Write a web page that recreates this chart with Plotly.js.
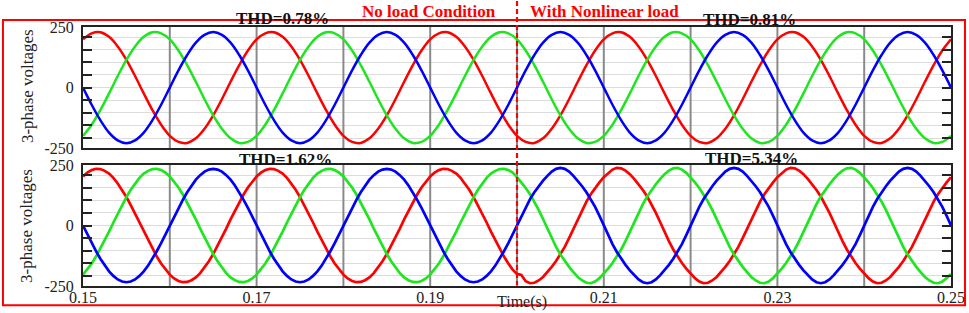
<!DOCTYPE html>
<html>
<head>
<meta charset="utf-8">
<script src="https://cdn.plot.ly/plotly-3.0.1.min.js"></script>
<style>
html,body{margin:0;padding:0;background:#fff;}
#chart{width:969px;height:313px;}
</style>
</head>
<body>
<div id="chart"></div>
<script>
// ---- sampling of the traces (seconds) ----
const tStart = 0.15;
const dtTop = 0.001;     // top panel sample step
const dtBottom = 0.0005; // bottom panel sample step

// ---- axis labels / grid ----
const xTickVals = [0.15, 0.17, 0.19, 0.21, 0.23, 0.25];
const xTickText = ['0.15', '0.17', '0.19', '0.21', '0.23', '0.25'];
const xGridVals = [0.16, 0.17, 0.18, 0.19, 0.20, 0.21, 0.22, 0.23, 0.24];
const yRange = [-240, 240];
const yTickVals = [-240, 0, 240];
const yTickText = ['-250', '0', '250'];
const yTitle = '3-phase voltages';
const xTitle = 'Time(s)';

// ---- top panel: no load -> nonlinear load, inverter output (THD 0.78% / 0.81%) ----
const topRed = [
191,215,219,201,163,110,46,-23,-89,-147,-191,-215,-219,-201,-163,-110,-46,23,89,147,
191,215,219,201,163,110,46,-23,-89,-147,-191,-215,-219,-201,-163,-110,-46,23,89,147,
191,215,219,201,163,110,46,-23,-89,-147,-191,-215,-219,-201,-163,-110,-46,23,89,147,
191,215,219,201,163,110,46,-23,-89,-147,-191,-215,-219,-201,-163,-110,-46,23,89,147,
191,215,219,201,163,110,46,-23,-89,-147,-191,-215,-219,-201,-163,-110,-46,23,89,147,
191];
const topGreen = [
-191,-147,-89,-23,46,110,163,201,219,215,191,147,89,23,-46,-110,-163,-201,-219,-215,
-191,-147,-89,-23,46,110,163,201,219,215,191,147,89,23,-46,-110,-163,-201,-219,-215,
-191,-147,-89,-23,46,110,163,201,219,215,191,147,89,23,-46,-110,-163,-201,-219,-215,
-191,-147,-89,-23,46,110,163,201,219,215,191,147,89,23,-46,-110,-163,-201,-219,-215,
-191,-147,-89,-23,46,110,163,201,219,215,191,147,89,23,-46,-110,-163,-201,-219,-215,
-191];
const topBlue = [
0,-68,-129,-178,-209,-220,-209,-178,-129,-68,0,68,129,178,209,220,209,178,129,68,
0,-68,-129,-178,-209,-220,-209,-178,-129,-68,0,68,129,178,209,220,209,178,129,68,
0,-68,-129,-178,-209,-220,-209,-178,-129,-68,0,68,129,178,209,220,209,178,129,68,
0,-68,-129,-178,-209,-220,-209,-178,-129,-68,0,68,129,178,209,220,209,178,129,68,
0,-68,-129,-178,-209,-220,-209,-178,-129,-68,0,68,129,178,209,220,209,178,129,68,
0];

// ---- bottom panel: grid voltages (THD 1.62% before, 5.34% after the load step) ----
const botRedPre = [
195,210,220,225,224,217,206,189,167,142,113,81,47,12,-24,-58,-92,-123,-151,-175,
-195,-210,-220,-225,-224,-217,-206,-189,-167,-142,-113,-81,-47,-12,24,58,92,123,151,175,
195,210,220,225,224,217,206,189,167,142,113,81,47,12,-24,-58,-92,-123,-151,-175,
-195,-210,-220,-225,-224,-217,-206,-189,-167,-142,-113,-81,-47,-12,24,58,92,123,151,175,
195,210,220,225,224,217,206,189,167,142,113,81,47,12,-24,-58,-92,-123,-151,-175];
const botRedPost = [
-192,-196,-221,-229,-227,-218,-204,-185,-164,-141,-115,-85,-50,-13,26,62,95,124,149,171,
192,209,222,229,227,218,204,185,164,141,115,85,50,13,-26,-62,-95,-124,-149,-171,
-192,-209,-222,-229,-227,-218,-204,-185,-164,-141,-115,-85,-50,-13,26,62,95,124,149,171,
192,209,222,229,227,218,204,185,164,141,115,85,50,13,-26,-62,-95,-124,-149,-171,
-192,-209,-222,-229,-227,-218,-204,-185,-164,-141,-115,-85,-50,-13,26,62,95,124,149,171,
192];
const botGreenPre = [
-195,-175,-151,-123,-92,-58,-24,12,47,81,113,142,167,189,206,217,224,225,220,210,
195,175,151,123,92,58,24,-12,-47,-81,-113,-142,-167,-189,-206,-217,-224,-225,-220,-210,
-195,-175,-151,-123,-92,-58,-24,12,47,81,113,142,167,189,206,217,224,225,220,210,
195,175,151,123,92,58,24,-12,-47,-81,-113,-142,-167,-189,-206,-217,-224,-225,-220,-210,
-195,-175,-151,-123,-92,-58,-24,12,47,81,113,142,167,189,206,217,224,225,220,210];
const botGreenPost = [
192,171,149,124,95,62,26,-13,-50,-85,-115,-141,-164,-185,-204,-218,-227,-229,-222,-209,
-192,-171,-149,-124,-95,-62,-26,13,50,85,115,141,164,185,204,218,227,229,222,209,
192,171,149,124,95,62,26,-13,-50,-85,-115,-141,-164,-185,-204,-218,-227,-229,-222,-209,
-192,-171,-149,-124,-95,-62,-26,13,50,85,115,141,164,185,204,218,227,229,222,209,
192,171,149,124,95,62,26,-13,-50,-85,-115,-141,-164,-185,-204,-218,-227,-229,-222,-209,
-192];
const botBluePre = [
0,-35,-70,-102,-132,-159,-182,-200,-214,-222,-225,-222,-214,-200,-182,-159,-132,-102,-70,-35,
0,35,70,102,132,159,182,200,214,222,225,222,214,200,182,159,132,102,70,35,
0,-35,-70,-102,-132,-159,-182,-200,-214,-222,-225,-222,-214,-200,-182,-159,-132,-102,-70,-35,
0,35,70,102,132,159,182,200,214,222,225,222,214,200,182,159,132,102,70,35,
0,-35,-70,-102,-132,-159,-182,-200,-214,-222,-225,-222,-214,-200,-182,-159,-132,-102,-70,-35];
const botBluePost = [
0,38,74,105,132,156,178,197,214,225,229,225,214,197,178,156,132,105,74,38,
0,-38,-74,-105,-132,-156,-178,-197,-214,-225,-229,-225,-214,-197,-178,-156,-132,-105,-74,-38,
0,38,74,105,132,156,178,197,214,225,229,225,214,197,178,156,132,105,74,38,
0,-38,-74,-105,-132,-156,-178,-197,-214,-225,-229,-225,-214,-197,-178,-156,-132,-105,-74,-38,
0,38,74,105,132,156,178,197,214,225,229,225,214,197,178,156,132,105,74,38,
0];

// ---- texts ----
const thdTexts = ['THD=0.78%', 'THD=0.81%', 'THD=1.62%', 'THD=5.34%'];
const stageTexts = ['No load Condition', 'With Nonlinear load'];
const loadStepTime = 0.20;

const RED = '#ff0000', GREEN = '#1ee61e', BLUE = '#0000ff';
const SERIF = '"Liberation Serif", "Times New Roman", serif';
const INK = '#222';

function tr(y, color, dx, xa, ya, shape, w) {
  return {type: 'scatter', mode: 'lines', y: y, x0: tStart, dx: dx,
          xaxis: xa, yaxis: ya, line: {color: color, width: w, shape: shape, smoothing: 1},
          hoverinfo: 'skip', showlegend: false};
}

// vertical grid lines as a trace (drawn over the light horizontal grid, under the curves)
function gridTrace(xa, ya) {
  const gx = [], gy = [];
  xGridVals.forEach(function (t) { gx.push(t, t, null); gy.push(yRange[0], yRange[1], null); });
  return {type: 'scatter', mode: 'lines', x: gx, y: gy, xaxis: xa, yaxis: ya,
          line: {color: '#8a8a8a', width: 2}, hoverinfo: 'skip', showlegend: false, connectgaps: false};
}

const data = [
  gridTrace('x', 'y'),
  gridTrace('x2', 'y2'),
  tr(topRed, RED, dtTop, 'x', 'y', 'spline', 2.5),
  tr(topGreen, GREEN, dtTop, 'x', 'y', 'spline', 2.5),
  tr(topBlue, BLUE, dtTop, 'x', 'y', 'spline', 2.5),
  tr(botRedPre.concat(botRedPost), RED, dtBottom, 'x2', 'y2', 'linear', 2.7),
  tr(botGreenPre.concat(botGreenPost), GREEN, dtBottom, 'x2', 'y2', 'linear', 2.7),
  tr(botBluePre.concat(botBluePost), BLUE, dtBottom, 'x2', 'y2', 'linear', 2.7)
];

function xax(showLabels, anchor) {
  return {range: [0.15, 0.25], domain: [0, 1], anchor: anchor, tickvals: xTickVals, ticktext: xTickText,
          showticklabels: showLabels, ticks: '', showgrid: false,
          showline: true, mirror: true, linecolor: INK, linewidth: 2, zeroline: false,
          tickfont: {family: SERIF, size: 16, color: INK}, ticklabelstandoff: -4};
}
function yax(domain, anchor) {
  return {range: yRange, domain: domain, anchor: anchor, tickvals: yTickVals, ticktext: yTickText,
          ticks: 'inside', ticklen: 9, tickwidth: 2, tickcolor: INK,
          minor: {dtick: 50, tick0: 0, ticks: 'inside', ticklen: 9, tickwidth: 2, tickcolor: INK,
                  showgrid: true, gridcolor: '#dcdcdc', gridwidth: 1},
          showgrid: true, gridcolor: '#dcdcdc', gridwidth: 1,
          showline: true, mirror: 'allticks', linecolor: INK, linewidth: 2, zeroline: false,
          tickfont: {family: SERIF, size: 16, color: INK}, ticklabelstandoff: 4};
}

function note(text, x, y, size, color, xref, angle) {
  return {text: text, xref: xref || 'x', yref: 'paper', x: x, y: y, xanchor: 'center', yanchor: 'middle',
          showarrow: false, textangle: angle || 0, font: {family: SERIF, size: size, color: color}};
}

const layout = {
  width: 969, height: 313,
  margin: {l: 83, r: 18, t: 27, b: 27},
  paper_bgcolor: '#fff', plot_bgcolor: '#fff',
  xaxis: xax(false, 'y'),
  yaxis: yax([0.532, 1], 'x'),
  xaxis2: xax(true, 'y2'),
  yaxis2: yax([0, 0.467], 'x2'),
  shapes: [
    {type: 'rect', xref: 'paper', yref: 'paper', x0: -0.0922, x1: 1.0161, y0: -0.074, y1: 1.027,
     line: {color: RED, width: 2}, fillcolor: 'rgba(0,0,0,0)', layer: 'above'},
    {type: 'line', xref: 'x', yref: 'paper', x0: loadStepTime, x1: loadStepTime, y0: 1.10, y1: 0.004,
     line: {color: RED, width: 2.2, dash: '5px,3px'}, layer: 'above'}
  ],
  annotations: [
    note('<b>' + thdTexts[0] + '</b>', 0.1730, 1.031, 17, '#111'),
    note('<b>' + thdTexts[1] + '</b>', 0.2268, 1.030, 17, '#111'),
    note('<b>' + thdTexts[2] + '</b>', 0.1733, 0.4865, 17, '#111'),
    note('<b>' + thdTexts[3] + '</b>', 0.2270, 0.494, 17, '#111'),
    note('<b>' + stageTexts[0] + '</b>', 0.1899, 1.058, 17, RED),
    note('<b>' + stageTexts[1] + '</b>', 0.2101, 1.058, 17, RED),
    note(xTitle, 0.2006, -0.060, 16, INK),
    note(yTitle, -0.0645, 0.772, 17, INK, 'paper', -90),
    note(yTitle, -0.0645, 0.232, 17, INK, 'paper', -90)
  ]
};

Plotly.newPlot('chart', data, layout, {displayModeBar: false, staticPlot: true});
</script>
</body>
</html>
